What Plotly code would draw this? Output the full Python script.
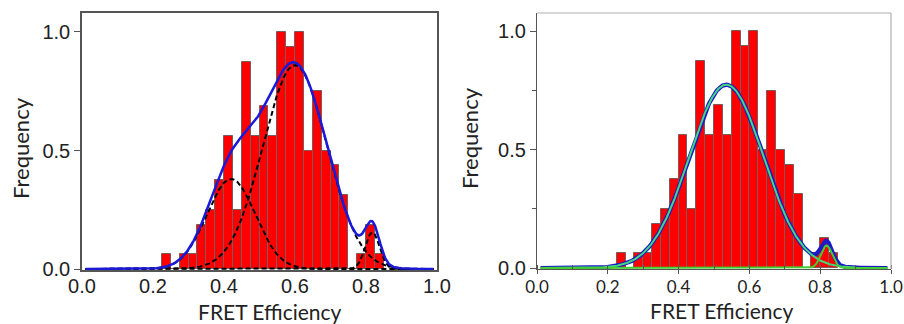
import numpy as np
import plotly.graph_objects as go

# ---- data ----
bin_centers = [0.2375, 0.2625, 0.2875, 0.3125, 0.3375, 0.3625, 0.3875, 0.4125, 0.4375,
               0.4625, 0.4875, 0.5125, 0.5375, 0.5625, 0.5875, 0.6125, 0.6375, 0.6625,
               0.6875, 0.7125, 0.7375, 0.7625, 0.7875, 0.8125, 0.8375]
left_counts = [1, 0, 1, 1, 3, 4, 6, 9, 4, 14, 9, 11, 9, 16, 15, 16, 8, 12, 8, 7, 5, 0, 1, 3, 1]
right_counts = [1, 0, 1, 1, 3, 4, 6, 9, 4, 14, 9, 11, 9, 16, 15, 16, 8, 12, 8, 7, 5, 0, 1, 2, 1]
max_count = 16

# Gaussian fit components (amplitude, centre, sigma)
left_amp = [0.38, 0.86, 0.155]
left_mu = [0.42, 0.60, 0.818]
left_sig = [0.068, 0.09, 0.02]
right_amp = [0.775, 0.095]
right_mu = [0.535, 0.818]
right_sig = [0.105, 0.016]

x_ticks = [0.0, 0.2, 0.4, 0.6, 0.8, 1.0]
y_ticks = [0.0, 0.5, 1.0]

# ---- figure ----
W, H = 904, 324
xs = np.linspace(0.01, 0.99, 500)

def gauss(a, m, s):
    return a * np.exp(-(xs - m) ** 2 / (2 * s ** 2))

left_freq = [c / max_count for c in left_counts]
right_freq = [c / max_count for c in right_counts]

fig = go.Figure()
bar_style = dict(marker=dict(color="#FF0000", line=dict(color="#7a5a5a", width=1)), width=0.025)
fig.add_trace(go.Bar(x=bin_centers, y=left_freq, xaxis="x", yaxis="y", **bar_style))
fig.add_trace(go.Bar(x=bin_centers, y=right_freq, xaxis="x2", yaxis="y2", **bar_style))

left_comps = [gauss(a, m, s) for a, m, s in zip(left_amp, left_mu, left_sig)]
for comp in left_comps:
    fig.add_trace(go.Scatter(x=xs, y=comp, mode="lines", xaxis="x", yaxis="y",
                             line=dict(color="black", width=2, dash="5px,3px")))
fig.add_trace(go.Scatter(x=xs, y=sum(left_comps), mode="lines", xaxis="x", yaxis="y",
                         line=dict(color="#1a1ad8", width=2.5)))

right_comps = [gauss(a, m, s) for a, m, s in zip(right_amp, right_mu, right_sig)]
fig.add_trace(go.Scatter(x=xs, y=sum(right_comps), mode="lines", xaxis="x2", yaxis="y2",
                         line=dict(color="#1a1ac8", width=4.2)))
fig.add_trace(go.Scatter(x=xs, y=right_comps[0], mode="lines", xaxis="x2", yaxis="y2",
                         line=dict(color="#46d47c", width=2)))
fig.add_trace(go.Scatter(x=xs, y=right_comps[1], mode="lines", xaxis="x2", yaxis="y2",
                         line=dict(color="#44CC33", width=2)))

def px(x):
    return x / W

def py(y):
    return 1 - y / H

tickfont_l = dict(family="Liberation Sans, Arial", size=20, color="#222")
fig.update_layout(
    width=W, height=H, margin=dict(l=0, r=0, t=0, b=0, autoexpand=False),
    paper_bgcolor="white", plot_bgcolor="white", showlegend=False, bargap=0,
    xaxis=dict(domain=[px(82), px(437)], range=[0, 1.0], tickvals=x_ticks, automargin=False,
               ticktext=[f"{v:.1f}" for v in x_ticks], ticks="", showgrid=False,
               zeroline=False, showline=True, linecolor="#555", linewidth=1.5, mirror=True,
               ticklabelstandoff=-3,
               tickfont=dict(family="Liberation Sans, Arial", size=20, color="#222")),
    yaxis=dict(domain=[py(270), py(13)], range=[-0.004, 1.08], tickvals=y_ticks, automargin=False,
               ticktext=[f"{v:.1f}" for v in y_ticks], ticks="outside", ticklen=6,
               tickcolor="#555", showgrid=False, zeroline=False, showline=True,
               linecolor="#555", linewidth=1.5, mirror=True, tickfont=tickfont_l),
    xaxis2=dict(domain=[px(537), px(891)], range=[0, 1.0], tickvals=x_ticks, automargin=False,
                ticktext=[f"{v:.1f}" for v in x_ticks], ticks="outside", ticklen=4,
                tickcolor="#555", showgrid=False, zeroline=False, showline=True,
                linecolor="#555", linewidth=1.2, anchor="y2", ticklabelstandoff=-2,
                minor=dict(dtick=0.1, ticks="inside", ticklen=4, tickcolor="#555"),
                tickfont=dict(family="Lato, Open Sans", size=17, color="#222")),
    yaxis2=dict(domain=[py(269), py(13)], range=[-0.004, 1.078], tickvals=y_ticks, automargin=False,
                ticktext=[f"{v:.1f}" for v in y_ticks], ticks="outside", ticklen=6,
                tickcolor="#555", showgrid=False, zeroline=False, showline=True,
                linecolor="#555", linewidth=1.2, anchor="x2",
                minor=dict(tickvals=[0.25, 0.75], ticks="outside", ticklen=4, tickcolor="#555"),
                tickfont=dict(family="Liberation Sans, Arial", size=20, color="#222")),
)

# light frame on top/right of right panel
fig.add_shape(type="line", xref="paper", yref="paper", x0=px(537), x1=px(891), y0=py(13), y1=py(13),
              line=dict(color="#b0b0b0", width=1.2))
fig.add_shape(type="line", xref="paper", yref="paper", x0=px(891), x1=px(891), y0=py(13), y1=py(269),
              line=dict(color="#b0b0b0", width=1.2))

title_font = dict(family="Lato, Open Sans", size=21, color="#222")
fig.add_annotation(text="FRET Efficiency", xref="paper", yref="paper", x=px(270), y=py(311),
                   showarrow=False, font=title_font, xanchor="center", yanchor="middle")
fig.add_annotation(text="FRET Efficiency", xref="paper", yref="paper", x=px(722), y=py(310),
                   showarrow=False, font=title_font, xanchor="center", yanchor="middle")
fig.add_annotation(text="Frequency", xref="paper", yref="paper", x=px(20), y=py(148),
                   showarrow=False, font=dict(family="Lato, Open Sans", size=22, color="#222"),
                   textangle=-90, xanchor="center", yanchor="middle")
fig.add_annotation(text="Frequency", xref="paper", yref="paper", x=px(469), y=py(138),
                   showarrow=False, font=dict(family="Lato, Open Sans", size=22, color="#222"),
                   textangle=-90, xanchor="center", yanchor="middle")

fig.write_html("out.html")
